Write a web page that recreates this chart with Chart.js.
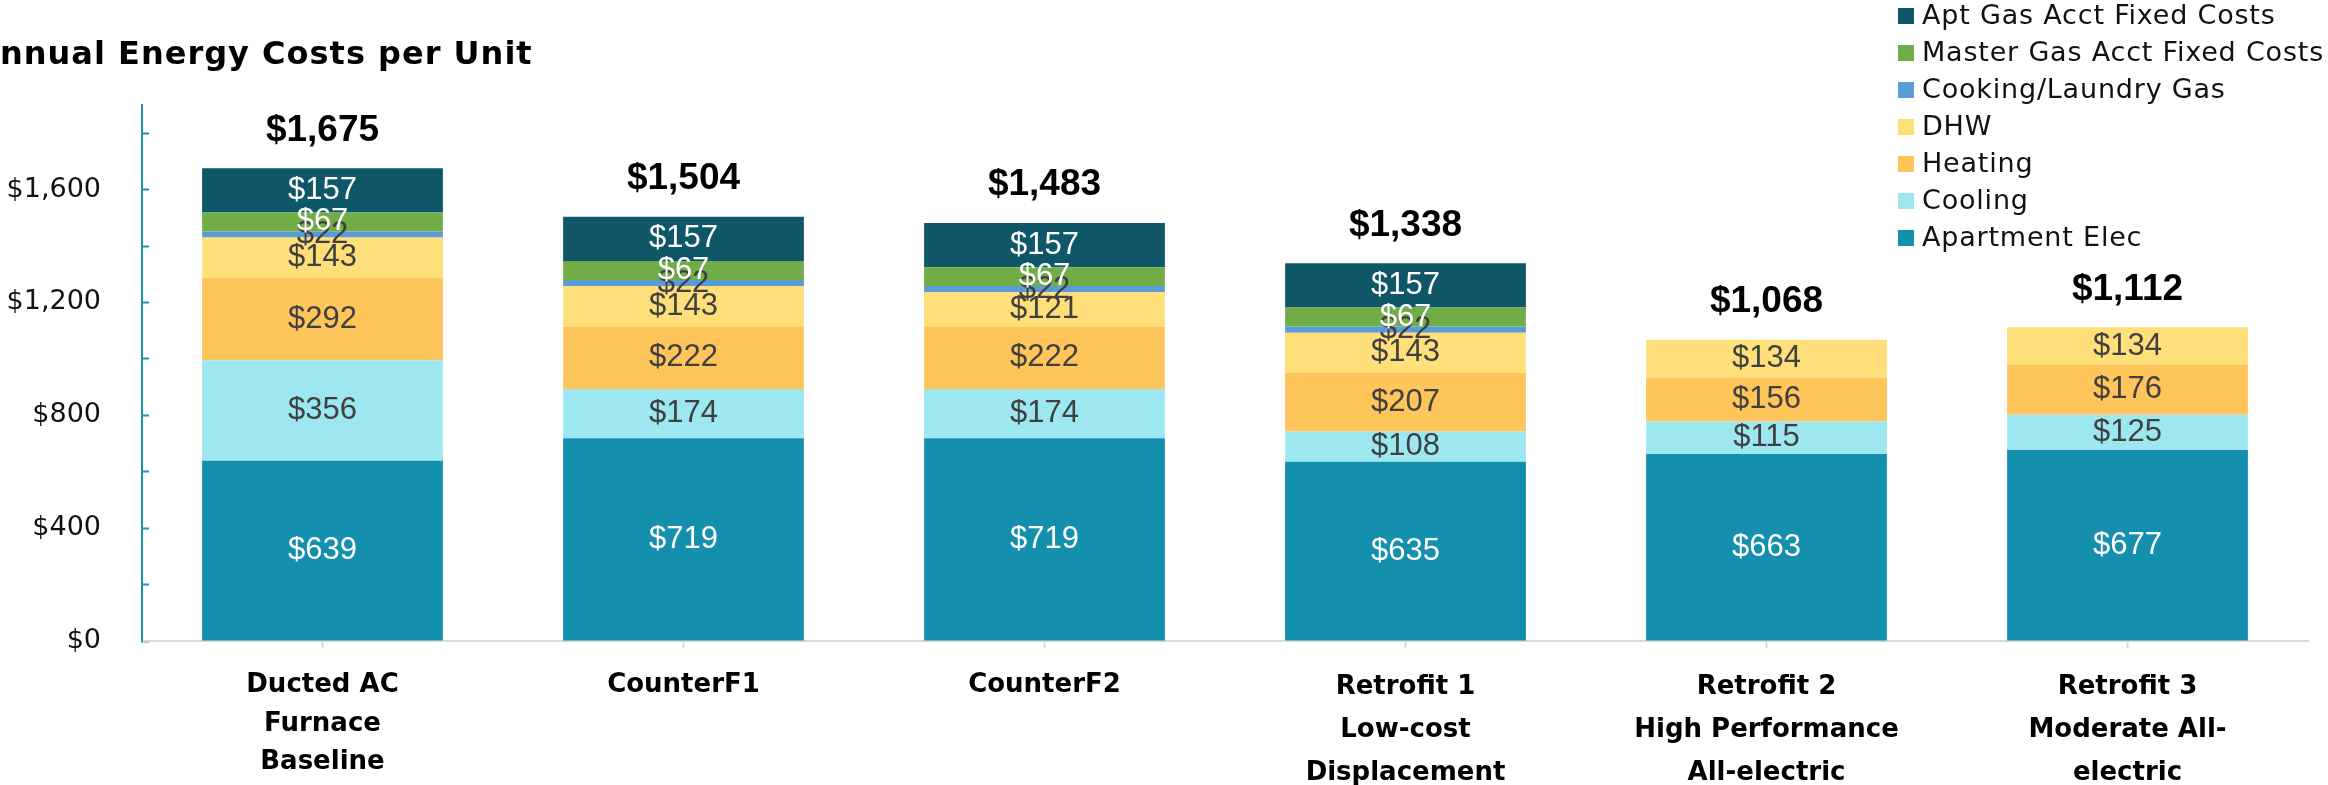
<!DOCTYPE html>
<html>
<head>
<meta charset="utf-8">
<script src="https://cdn.jsdelivr.net/npm/chart.js@4.4.1/dist/chart.umd.min.js"></script>
<style>
  body { margin: 0; background: #fff; }
  #wrap { width: 2328px; height: 785px; position: relative; }
</style>
</head>
<body>
<div id="wrap"><canvas id="myChart"></canvas></div>
<script>
// data
const categories = [
  ["Ducted AC", "Furnace", "Baseline"],
  "CounterF1",
  "CounterF2",
  ["Retrofit 1", "Low-cost", "Displacement"],
  ["Retrofit 2", "High Performance", "All-electric"],
  ["Retrofit 3", "Moderate All-", "electric"],
];
const apartmentElec = [639, 719, 719, 635, 663, 677];
const cooling = [356, 174, 174, 108, 115, 125];
const heating = [292, 222, 222, 207, 156, 176];
const dhw = [143, 143, 121, 143, 134, 134];
const cookingLaundryGas = [22, 22, 22, 22, null, null];
const masterGasFixed = [67, 67, 67, 67, null, null];
const aptGasFixed = [157, 157, 157, 157, null, null];
const totals = [1675, 1504, 1483, 1338, 1068, 1112];
const yTickLabels = [0, 400, 800, 1200, 1600];

const money = (v) => "$" + v.toLocaleString("en-US");

Chart.defaults.font.family = "'DejaVu Sans', sans-serif";

// labels inside each segment
const segLabels = {
  id: "segLabels",
  afterDatasetsDraw(chart) {
    const c = chart.ctx;
    c.save();
    c.font = "31px 'Liberation Sans', Arial, sans-serif";
    c.textAlign = "center";
    c.textBaseline = "middle";
    chart.data.datasets.forEach((ds, d) => {
      const meta = chart.getDatasetMeta(d);
      meta.data.forEach((bar, i) => {
        const v = ds.data[i];
        if (!v) return;
        c.fillStyle = ds.labelColor;
        c.fillText(money(v), bar.x, (bar.y + bar.base) / 2);
      });
    });
    c.restore();
  },
};

// totals above bars
const totalLabels = {
  id: "totalLabels",
  afterDatasetsDraw(chart) {
    const c = chart.ctx;
    const x = chart.scales.x;
    const y = chart.scales.y;
    c.save();
    c.font = "bold 37px 'Liberation Sans', Arial, sans-serif";
    c.textAlign = "center";
    c.textBaseline = "middle";
    c.fillStyle = "#000";
    totals.forEach((t, i) => {
      c.fillText(money(t), x.getPixelForValue(i), y.getPixelForValue(t) - 38);
    });
    c.restore();
  },
};

// title + legend
const titleLegend = {
  id: "titleLegend",
  afterDraw(chart) {
    const c = chart.ctx;
    c.save();
    c.textBaseline = "middle";
    c.textAlign = "left";
    c.fillStyle = "#000";
    c.font = "bold 32px 'DejaVu Sans', sans-serif";
    if ("letterSpacing" in c) c.letterSpacing = "1px";
    const title = "Annual Energy Costs per Unit";
    const cut = c.measureText("A").width;
    c.fillText(title, -cut, 56);

    c.font = "27px 'DejaVu Sans', sans-serif";
    if ("letterSpacing" in c) c.letterSpacing = "0.8px";
    const sets = chart.data.datasets.slice().reverse();
    sets.forEach((ds, i) => {
      const yy = 16 + i * 37;
      c.fillStyle = ds.backgroundColor;
      c.fillRect(1898, yy - 8, 16, 16);
      c.fillStyle = "#111";
      c.fillText(ds.label, 1922, yy + 1);
    });
    c.restore();
  },
};

const ctx = document.getElementById("myChart");

new Chart(ctx, {
  type: "bar",
  data: {
    labels: categories,
    datasets: [
      { label: "Apartment Elec", data: apartmentElec, backgroundColor: "#148FAE", labelColor: "#fff" },
      { label: "Cooling", data: cooling, backgroundColor: "#9DE8F0", labelColor: "#404040" },
      { label: "Heating", data: heating, backgroundColor: "#FEC55A", labelColor: "#404040" },
      { label: "DHW", data: dhw, backgroundColor: "#FFDF79", labelColor: "#404040" },
      { label: "Cooking/Laundry Gas", data: cookingLaundryGas, backgroundColor: "#5B9BD5", labelColor: "#404040" },
      { label: "Master Gas Acct Fixed Costs", data: masterGasFixed, backgroundColor: "#70AD47", labelColor: "#fff" },
      { label: "Apt Gas Acct Fixed Costs", data: aptGasFixed, backgroundColor: "#0E5668", labelColor: "#fff" },
    ],
  },
  options: {
    responsive: true,
    maintainAspectRatio: false,
    animation: false,
    layout: {
      padding: { top: 105, right: 20, left: 0, bottom: 0 },
    },
    datasets: {
      bar: { categoryPercentage: 1, barPercentage: 0.667 },
    },
    plugins: {
      legend: { display: false },
      tooltip: { enabled: false },
    },
    scales: {
      x: {
        stacked: true,
        afterFit: (s) => { s.height = 144; },
        grid: {
          offset: false,
          drawOnChartArea: false,
          tickLength: 7,
          tickColor: "#d9d9d9",
          tickWidth: 2,
        },
        border: { color: "#d9d9d9", width: 2 },
        ticks: {
          padding: 18,
          color: "#000",
          maxRotation: 0,
          autoSkip: false,
          font: (c) => ({
            size: 26,
            weight: "bold",
            lineHeight: c.index >= 3 ? "43px" : "38.5px",
          }),
        },
      },
      y: {
        stacked: true,
        min: 0,
        max: 1900,
        afterFit: (s) => { s.width = 142; },
        grid: {
          drawOnChartArea: false,
          tickLength: -7,
          tickWidth: 2,
          tickColor: (c) => (c.tick && c.tick.value > 1800 ? "rgba(0,0,0,0)" : "#1F93B5"),
        },
        border: { color: "#1F93B5", width: 2 },
        ticks: {
          stepSize: 200,
          includeBounds: false,
          padding: 48,
          color: "#111",
          font: { size: 27 },
          callback: (v) => (yTickLabels.includes(v) ? money(v) : ""),
        },
      },
    },
  },
  plugins: [segLabels, totalLabels, titleLegend],
});
</script>
</body>
</html>
